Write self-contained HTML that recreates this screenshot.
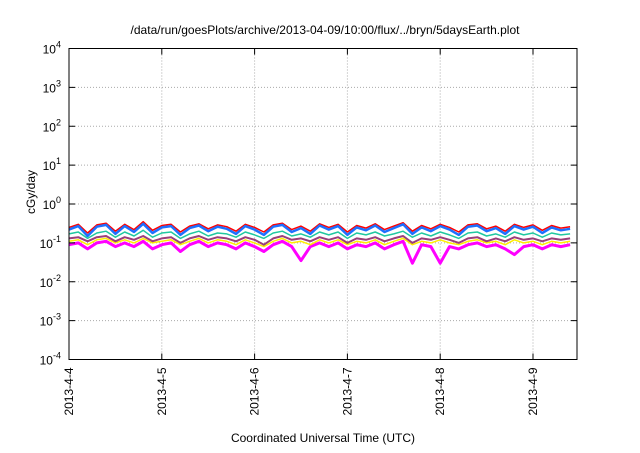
<!DOCTYPE html>
<html><head><meta charset="utf-8"><style>
body{margin:0;background:#fff;}
svg text{font-family:"Liberation Sans",sans-serif;fill:#000;}
</style></head><body>
<svg id="chart" width="640" height="448" viewBox="0 0 640 448" xmlns="http://www.w3.org/2000/svg">
<text x="325" y="34" font-size="12" text-anchor="middle">/data/run/goesPlots/archive/2013-04-09/10:00/flux/../bryn/5daysEarth.plot</text>
<g id="grid"></g>
<g id="series"></g>
<rect x="69" y="48.5" width="508" height="311" fill="none" stroke="#000" stroke-width="1"/>
<g id="axes"></g>
<text transform="translate(35,192) rotate(-90)" font-size="12" text-anchor="middle">cGy/day</text>
<text x="323" y="442" font-size="12" text-anchor="middle">Coordinated Universal Time (UTC)</text>
</svg>
<script>
const xTickLabels = ["2013-4-4","2013-4-5","2013-4-6","2013-4-7","2013-4-8","2013-4-9"];
const yTickExps = [-4,-3,-2,-1,0,1,2,3,4];
const red = [0.25,0.3,0.18,0.29,0.32,0.2,0.3,0.22,0.35,0.21,0.28,0.3,0.19,0.27,0.31,0.23,0.29,0.26,0.2,0.3,0.25,0.19,0.29,0.32,0.22,0.27,0.2,0.31,0.25,0.3,0.19,0.28,0.24,0.31,0.22,0.27,0.33,0.2,0.28,0.23,0.3,0.25,0.19,0.29,0.31,0.23,0.27,0.2,0.3,0.25,0.29,0.21,0.28,0.24,0.26];
const blue = [0.22,0.27,0.15,0.26,0.29,0.17,0.27,0.19,0.31,0.18,0.25,0.27,0.16,0.24,0.28,0.2,0.26,0.23,0.17,0.27,0.22,0.16,0.26,0.29,0.19,0.24,0.17,0.28,0.22,0.27,0.16,0.25,0.21,0.28,0.19,0.24,0.3,0.17,0.25,0.2,0.27,0.22,0.16,0.26,0.28,0.2,0.24,0.17,0.27,0.22,0.26,0.18,0.25,0.21,0.23];
const teal = [0.17,0.19,0.13,0.18,0.2,0.14,0.19,0.15,0.21,0.14,0.18,0.19,0.13,0.17,0.2,0.15,0.18,0.17,0.14,0.19,0.16,0.13,0.18,0.2,0.15,0.17,0.14,0.19,0.16,0.19,0.13,0.18,0.16,0.19,0.15,0.17,0.2,0.14,0.18,0.15,0.19,0.16,0.13,0.18,0.19,0.15,0.17,0.14,0.19,0.16,0.18,0.14,0.18,0.16,0.17];
const purple = [0.13,0.14,0.11,0.14,0.15,0.11,0.14,0.12,0.15,0.11,0.13,0.14,0.1,0.13,0.15,0.12,0.14,0.13,0.11,0.14,0.12,0.09,0.13,0.15,0.12,0.13,0.11,0.14,0.12,0.14,0.1,0.13,0.12,0.14,0.11,0.13,0.15,0.1,0.13,0.12,0.14,0.12,0.1,0.13,0.14,0.11,0.13,0.11,0.14,0.12,0.13,0.11,0.13,0.12,0.13];
const yellow = [0.11,0.12,0.09,0.12,0.13,0.1,0.12,0.1,0.13,0.1,0.11,0.12,0.09,0.11,0.13,0.1,0.12,0.11,0.09,0.12,0.1,0.08,0.11,0.13,0.1,0.11,0.09,0.12,0.1,0.12,0.09,0.11,0.1,0.12,0.09,0.11,0.13,0.09,0.11,0.1,0.12,0.1,0.09,0.11,0.12,0.1,0.11,0.09,0.12,0.1,0.11,0.09,0.11,0.1,0.11];
const magenta = [0.09,0.1,0.07,0.1,0.11,0.08,0.1,0.08,0.11,0.07,0.09,0.1,0.06,0.09,0.11,0.08,0.1,0.09,0.07,0.1,0.08,0.06,0.09,0.11,0.08,0.035,0.08,0.1,0.08,0.1,0.07,0.09,0.08,0.1,0.07,0.09,0.11,0.03,0.09,0.08,0.03,0.08,0.07,0.09,0.1,0.08,0.09,0.07,0.05,0.08,0.09,0.07,0.09,0.08,0.09];
const sampleStepDays = 0.1;

const NS="http://www.w3.org/2000/svg";
const L=69,R=577,T=48.5,B=359.5,dayPx=92.8;
const xs=d=>L+d*dayPx;
const ys=v=>B-(Math.log10(v)+4)*(B-T)/8;
function mk(tag,attrs,parent){const e=document.createElementNS(NS,tag);for(const k in attrs)e.setAttribute(k,attrs[k]);parent.appendChild(e);return e;}
const grid=document.getElementById('grid'),axes=document.getElementById('axes'),ser=document.getElementById('series');
yTickExps.forEach(p=>{
  const y=ys(Math.pow(10,p));
  if(p>-4&&p<4){const g=mk('line',{x1:L,x2:R,y1:y,y2:y,stroke:'#aaa','stroke-dasharray':'1,2','stroke-width':1},grid);
  }
  const t=mk('line',{x1:L,x2:L+6,y1:y,y2:y,stroke:'#000'},axes);
  
  const t2=mk('line',{x1:R,x2:R-6,y1:y,y2:y,stroke:'#000'},axes);
  
  const tx=mk('text',{x:L-8,y:y+5,'font-size':12,'text-anchor':'end'},axes);
  
  tx.appendChild(document.createTextNode('10'));
  const sp=mk('tspan',{dy:-6,'font-size':9},tx);sp.textContent=String(p);
});
xTickLabels.forEach((lab,i)=>{
  const x=xs(i);
  if(i>0){const g=mk('line',{x1:x,x2:x,y1:T,y2:B,stroke:'#aaa','stroke-dasharray':'1,2'},grid);
  }
  const t=mk('line',{x1:x,x2:x,y1:B,y2:B-6,stroke:'#000'},axes);
  
  const t2=mk('line',{x1:x,x2:x,y1:T,y2:T+6,stroke:'#000'},axes);
  
  const tx=mk('text',{transform:`translate(${x+4},${B+8}) rotate(-90)`,'font-size':12,'text-anchor':'end'},axes);
  
  tx.textContent=lab;
});
const seriesList=[
  {n:'series-magenta',d:magenta,c:'#ff00ff',w:3},
  {n:'series-yellow',d:yellow,c:'#ffee00',w:1.5},
  {n:'series-purple',d:purple,c:'#9a3f7a',w:2},
  {n:'series-teal',d:teal,c:'#20c8a0',w:1.5},
  {n:'series-red',d:red,c:'#ff0000',w:1.5},
  {n:'series-blue',d:blue,c:'#1e70ff',w:2.5}
];
seriesList.forEach(s=>{
  const pts=s.d.map((v,i)=>xs(Math.min(i*sampleStepDays,(R-L)/dayPx)).toFixed(1)+','+ys(v).toFixed(1)).join(' ');
  const pl=mk('polyline',{points:pts,fill:'none',stroke:s.c,'stroke-width':s.w,'stroke-linejoin':'round'},ser);
  
});
</script>
</body></html>
